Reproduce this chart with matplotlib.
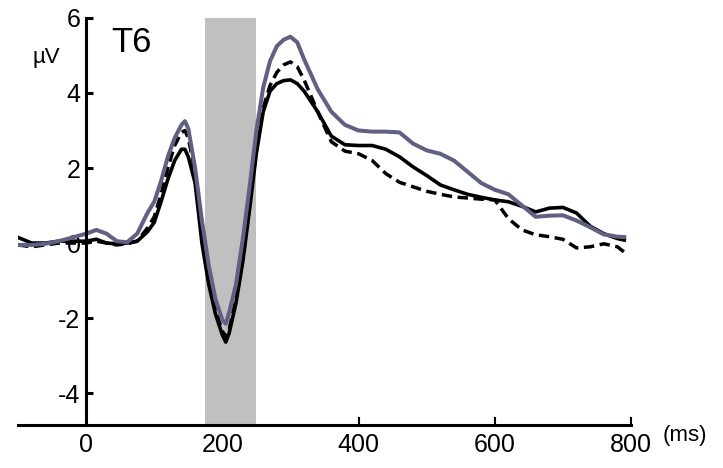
import matplotlib
matplotlib.use("Agg")
import matplotlib.pyplot as plt

plt.rcParams['font.family'] = ['Liberation Sans', 'DejaVu Sans']

# time points (ms)
t_ms = [-100, -80, -60, -40, -20, 0, 15, 30, 45, 60, 75, 90, 100, 110, 120, 130, 140, 145,
        150, 160, 170, 180, 190, 200, 205, 210, 220, 230, 240, 250, 260, 270, 280, 290, 300,
        310, 320, 340, 360, 380, 400, 420, 440, 460, 480, 500, 520, 540, 560, 580, 600, 620,
        640, 660, 680, 700, 720, 740, 760, 780, 790]

# gray (blue-gray) curve, µV
gray_uv = [-0.05, -0.05, -0.02, 0.05, 0.15, 0.25, 0.35, 0.25, 0.05, 0.02, 0.25, 0.8, 1.1, 1.65,
           2.3, 2.8, 3.15, 3.25, 3.05, 2.0, 0.6, -0.6, -1.5, -2.05, -2.15, -1.85, -1.1, 0.1, 1.5,
           3.0, 4.15, 4.85, 5.25, 5.42, 5.5, 5.35, 4.9, 4.1, 3.5, 3.15, 3.0, 2.97, 2.97, 2.95,
           2.65, 2.47, 2.38, 2.2, 1.9, 1.6, 1.42, 1.3, 1.0, 0.7, 0.73, 0.74, 0.6, 0.42, 0.23,
           0.17, 0.16]

# black solid curve, µV
solid_uv = [0.15, 0.0, 0.0, 0.05, 0.05, 0.05, 0.1, 0.0, -0.02, 0.0, 0.05, 0.3, 0.55, 1.1, 1.7,
            2.2, 2.5, 2.5, 2.3, 1.6, 0.0, -1.1, -1.9, -2.45, -2.64, -2.4, -1.6, -0.5, 0.9, 2.4,
            3.5, 4.05, 4.25, 4.33, 4.35, 4.25, 4.05, 3.5, 2.85, 2.62, 2.6, 2.6, 2.5, 2.3, 2.03,
            1.8, 1.55, 1.42, 1.3, 1.22, 1.15, 1.1, 0.98, 0.83, 0.93, 0.95, 0.8, 0.45, 0.25,
            0.12, 0.08]

# black dashed curve, µV
dashed_uv = [-0.05, -0.1, -0.05, 0.0, 0.0, 0.0, 0.05, 0.0, -0.05, -0.02, 0.05, 0.4, 0.7, 1.3,
             2.0, 2.6, 2.95, 3.0, 2.8, 1.9, 0.3, -0.9, -1.8, -2.35, -2.5, -2.3, -1.5, -0.3, 1.0,
             2.5, 3.6, 4.2, 4.55, 4.75, 4.83, 4.7, 4.35, 3.5, 2.7, 2.45, 2.38, 2.2, 1.85, 1.62,
             1.5, 1.38, 1.3, 1.23, 1.2, 1.17, 1.15, 0.65, 0.35, 0.22, 0.17, 0.1, -0.13, -0.1,
             -0.02, -0.1, -0.24]

# shaded window (ms)
window_ms = [175, 250]

x_ticks = [0, 200, 400, 600, 800]
y_ticks = [-4, -2, 0, 2, 4, 6]

fig = plt.figure(figsize=(7.23, 4.68), dpi=100)
ax = fig.add_axes([0.0249, 0.0919, 0.8479, 0.8697])

ax.axvspan(window_ms[0], window_ms[1], color='#c0c0c0', lw=0, zorder=1)

ax.plot(t_ms, dashed_uv, color='black', lw=2.5, ls=(0, (3.0, 1.6)), zorder=3)
ax.plot(t_ms, solid_uv, color='black', lw=2.6, zorder=4)
ax.plot(t_ms, gray_uv, color='#606082', lw=2.9, zorder=5)

ax.set_xlim(-100, 800)
ax.set_ylim(-4.85, 6.0)

for s in ['top', 'right']:
    ax.spines[s].set_visible(False)
ax.spines['left'].set_position(('data', 0))
ax.spines['left'].set_linewidth(2.2)
ax.spines['bottom'].set_linewidth(2.2)
ax.spines['left'].set_zorder(6)

ax.set_xticks(x_ticks)
ax.set_xticklabels([str(v) for v in x_ticks])
ax.set_yticks(y_ticks)
ax.set_yticklabels([str(v) for v in y_ticks])
ax.tick_params(axis='x', direction='in', length=6, width=1.5, labelsize=18, pad=6)
ax.tick_params(axis='y', direction='in', length=5, width=2.2, labelsize=18, pad=4)
xt = ax.xaxis.get_major_ticks()
xt[0].tick1line.set_visible(False)
xt[1].tick1line.set_visible(False)
yt = ax.yaxis.get_major_ticks()
yt[2].tick1line.set_visible(False)

fig.text(46 / 723, 1 - 58 / 468, 'µV', fontsize=16, ha='center', va='center')
fig.text(131 / 723, 1 - 42 / 468, 'T6', fontsize=25, ha='center', va='center')
fig.text(685 / 723, 1 - 436 / 468, '(ms)', fontsize=16, ha='center', va='center')

fig.savefig('out.png', dpi=100)
